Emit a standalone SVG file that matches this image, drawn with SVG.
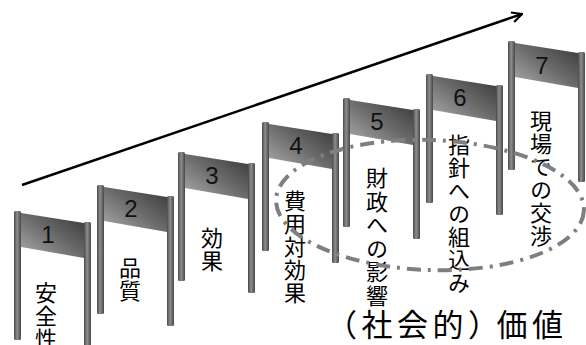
<svg xmlns="http://www.w3.org/2000/svg" xmlns:xlink="http://www.w3.org/1999/xlink" width="586" height="345" viewBox="0 0 586 345">
  <style>
    .num { font-family: "Liberation Sans", Arial, sans-serif; font-size: 24px; fill: #111; text-anchor: middle; }
    .lbl { font-family: "Noto Sans CJK JP", "Noto Sans", sans-serif; font-size: 22px; fill: #000; writing-mode: vertical-rl; letter-spacing: 1px; }
    .val { font-family: "Noto Sans CJK JP", "Noto Sans", sans-serif; font-size: 31px; fill: #000; letter-spacing: 4.5px; }
    .arrow { fill: none; stroke: #000; stroke-width: 2.5; }
    .ring { fill: none; stroke: #7f7f7f; stroke-width: 4; stroke-dasharray: 14 7 3 7; }
  </style>
  <defs>
    <linearGradient id="postFill" x1="0" y1="0" x2="1" y2="0">
      <stop offset="0" stop-color="#4a4a4a"/>
      <stop offset="0.45" stop-color="#8e8e8e"/>
      <stop offset="1" stop-color="#474747"/>
    </linearGradient>
    <linearGradient id="bannerFill" x1="0" y1="1" x2="1" y2="0">
      <stop offset="0" stop-color="#adadad"/>
      <stop offset="0.5" stop-color="#6c6c6c"/>
      <stop offset="1" stop-color="#363636"/>
    </linearGradient>
    <marker id="head" viewBox="0 0 12 12" refX="11" refY="6" markerWidth="12" markerHeight="12" markerUnits="userSpaceOnUse" orient="auto">
      <path d="M1,1 L11,6 L1,11" fill="none" stroke="#000" stroke-width="2.2"/>
    </marker>
    <!-- one gate: two posts and a slanted banner between them -->
    <g id="gate">
      <rect x="0" y="0" width="7" height="129" rx="1.5" fill="url(#postFill)"/>
      <rect x="70" y="11" width="7" height="130" rx="1.5" fill="url(#postFill)"/>
      <polygon points="7,2 70,12 70,47 7,36" fill="url(#bannerFill)"/>
    </g>
  </defs>

  <g id="connectors">
    <line class="arrow" x1="22" y1="185" x2="522" y2="14" marker-end="url(#head)"/>
  </g>

  <g id="n1">
    <use xlink:href="#gate" x="14" y="211"/>
    <text class="num" x="48" y="243">1</text>
    <text class="lbl" x="46" y="282">安全性</text>
  </g>
  <g id="n2">
    <use xlink:href="#gate" x="97" y="185"/>
    <text class="num" x="131" y="217">2</text>
    <text class="lbl" x="130" y="257">品質</text>
  </g>
  <g id="n3">
    <use xlink:href="#gate" x="178" y="152"/>
    <text class="num" x="212" y="184">3</text>
    <text class="lbl" x="212" y="227">効果</text>
  </g>
  <g id="n4">
    <use xlink:href="#gate" x="262" y="122"/>
    <text class="num" x="296" y="154">4</text>
    <text class="lbl" x="295" y="190">費用対効果</text>
  </g>
  <g id="n5">
    <use xlink:href="#gate" x="343" y="98"/>
    <text class="num" x="377" y="130">5</text>
    <text class="lbl" x="377" y="167" style="letter-spacing:1.5px">財政への影響</text>
  </g>
  <g id="n6">
    <use xlink:href="#gate" x="426" y="74"/>
    <text class="num" x="460" y="106">6</text>
    <text class="lbl" x="459" y="134">指針への組込み</text>
  </g>
  <g id="n7">
    <use xlink:href="#gate" x="508" y="41"/>
    <text class="num" x="542" y="74">7</text>
    <text class="lbl" x="541" y="110">現場での交渉</text>
  </g>

  <g id="value-group">
    <ellipse class="ring" cx="430" cy="205" rx="154" ry="65" transform="rotate(2 430 205)"/>
  </g>

  <text class="val" x="326" y="336">（社会的）<tspan dx="-7">価値</tspan></text>
</svg>
